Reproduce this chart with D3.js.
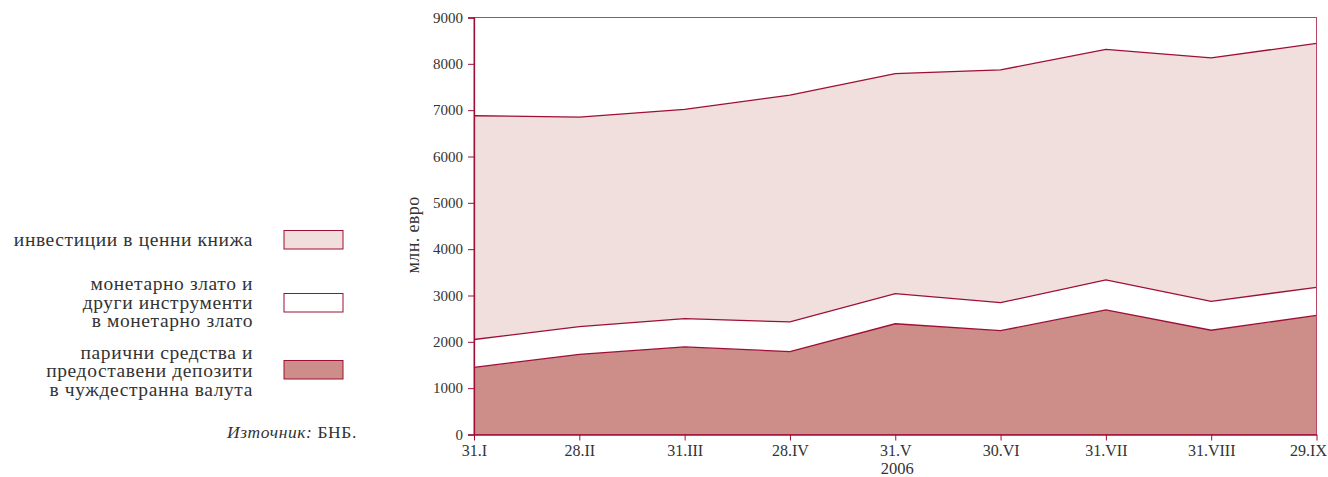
<!DOCTYPE html>
<html>
<head>
<meta charset="utf-8">
<script src="https://cdn.jsdelivr.net/npm/d3@7"></script>
<style>
  body { margin: 0; background: #fff; }
  svg text { font-family: "Liberation Serif", "DejaVu Serif", serif; fill: #333; }
</style>
</head>
<body>
<svg id="chart" width="1328" height="477"></svg>
<script>
// months (2006)
const categories = ["31.I", "28.II", "31.III", "28.IV", "31.V", "30.VI", "31.VII", "31.VIII", "29.IX"];
// series, million euro
const deposits = [1450, 1730, 1890, 1790, 2390, 2240, 2690, 2250, 2570];
const gold = [600, 600, 610, 640, 650, 605, 645, 625, 605];
const securities = [4830, 4520, 4515, 4895, 4750, 5025, 4975, 5255, 5265];
const yTicks = [0, 1000, 2000, 3000, 4000, 5000, 6000, 7000, 8000, 9000];

const keys = ["deposits", "gold", "securities"];
const fills = { deposits: "#cd8e8a", gold: "#ffffff", securities: "#f0dfdc" };
const lineColor = "#9e0f35";

const rows = categories.map((c, i) => ({
    cat: c, deposits: deposits[i], gold: gold[i], securities: securities[i]
}));

const svg = d3.select("#chart");
const plotLeft = 474, plotRight = 1316.5, plotTop = 17.5, plotBottom = 434.5;

const x = d3.scalePoint().domain(categories).range([plotLeft, plotRight]);
const y = d3.scaleLinear().domain([0, 9000]).range([plotBottom, plotTop]);

const stacked = d3.stack().keys(keys)(rows);

const area = d3.area()
    .x(d => x(d.data.cat))
    .y0(d => y(d[0]))
    .y1(d => y(d[1]));

const topLine = d3.line()
    .x(d => x(d.data.cat))
    .y(d => y(d[1]));

svg.append("g").selectAll("path")
    .data(stacked)
    .join("path")
    .attr("d", area)
    .attr("fill", d => fills[d.key]);

svg.append("g").selectAll("path")
    .data(stacked)
    .join("path")
    .attr("d", topLine)
    .attr("fill", "none")
    .attr("stroke", lineColor)
    .attr("stroke-width", 1.3);

// frame (top and right)
svg.append("rect")
    .attr("x", plotLeft).attr("y", plotTop)
    .attr("width", plotRight - plotLeft).attr("height", plotBottom - plotTop)
    .attr("fill", "none")
    .attr("stroke", "#b84563")
    .attr("stroke-width", 1);

// y axis
const yAxis = svg.append("g")
    .attr("transform", `translate(${plotLeft},0)`)
    .call(d3.axisLeft(y).tickValues(yTicks).tickSize(6).tickPadding(5).tickFormat(d3.format("d")));
yAxis.select(".domain").attr("stroke", lineColor).attr("stroke-width", 1.3);
yAxis.selectAll(".tick line").attr("stroke", lineColor);
yAxis.selectAll("text").style("font-size", "15px").attr("fill", "#333");

// x axis
const xAxis = svg.append("g")
    .attr("transform", `translate(0,${plotBottom})`)
    .call(d3.axisBottom(x).tickSize(6).tickPadding(4).tickSizeOuter(0));
xAxis.select(".domain").attr("stroke", lineColor).attr("stroke-width", 1.3);
xAxis.selectAll(".tick line").attr("stroke", lineColor);
xAxis.selectAll("text").style("font-size", "16px").attr("fill", "#333");
// last label sits against the right edge
xAxis.selectAll(".tick text")
    .filter(d => d === categories[categories.length - 1])
    .attr("text-anchor", "end")
    .attr("x", 10);

svg.append("text")
    .attr("x", x("31.V") + 2).attr("y", 474)
    .attr("text-anchor", "middle")
    .style("font-size", "16.5px")
    .text("2006");

svg.append("text")
    .attr("transform", "translate(419,235) rotate(-90)")
    .attr("text-anchor", "middle")
    .style("font-size", "18px")
    .style("letter-spacing", "0.4px")
    .text("млн. евро");

// legend
const legend = [
    { key: "securities", lines: ["инвестиции в ценни книжа"], boxY: 230.5, base: 246 },
    { key: "gold", lines: ["монетарно злато и", "други инструменти", "в монетарно злато"], boxY: 293.5, base: 290 },
    { key: "deposits", lines: ["парични средства и", "предоставени депозити", "в чуждестранна валута"], boxY: 360.5, base: 358.5 }
];
const lg = svg.append("g");
legend.forEach(l => {
    lg.append("rect")
        .attr("x", 284).attr("y", l.boxY)
        .attr("width", 59).attr("height", 18.5)
        .attr("fill", fills[l.key])
        .attr("stroke", lineColor)
        .attr("stroke-width", 1);
    l.lines.forEach((t, i) => {
        lg.append("text")
            .attr("x", 253).attr("y", l.base + i * 18.5)
            .attr("text-anchor", "end")
            .style("font-size", "19.5px")
            .style("letter-spacing", "0.6px")
            .text(t);
    });
});

const src = svg.append("text")
    .attr("x", 357).attr("y", 438)
    .attr("text-anchor", "end")
    .style("font-size", "17.5px")
    .style("letter-spacing", "0.6px");
src.append("tspan").style("font-style", "italic").text("Източник:");
src.append("tspan").text(" БНБ.");
</script>
</body>
</html>
